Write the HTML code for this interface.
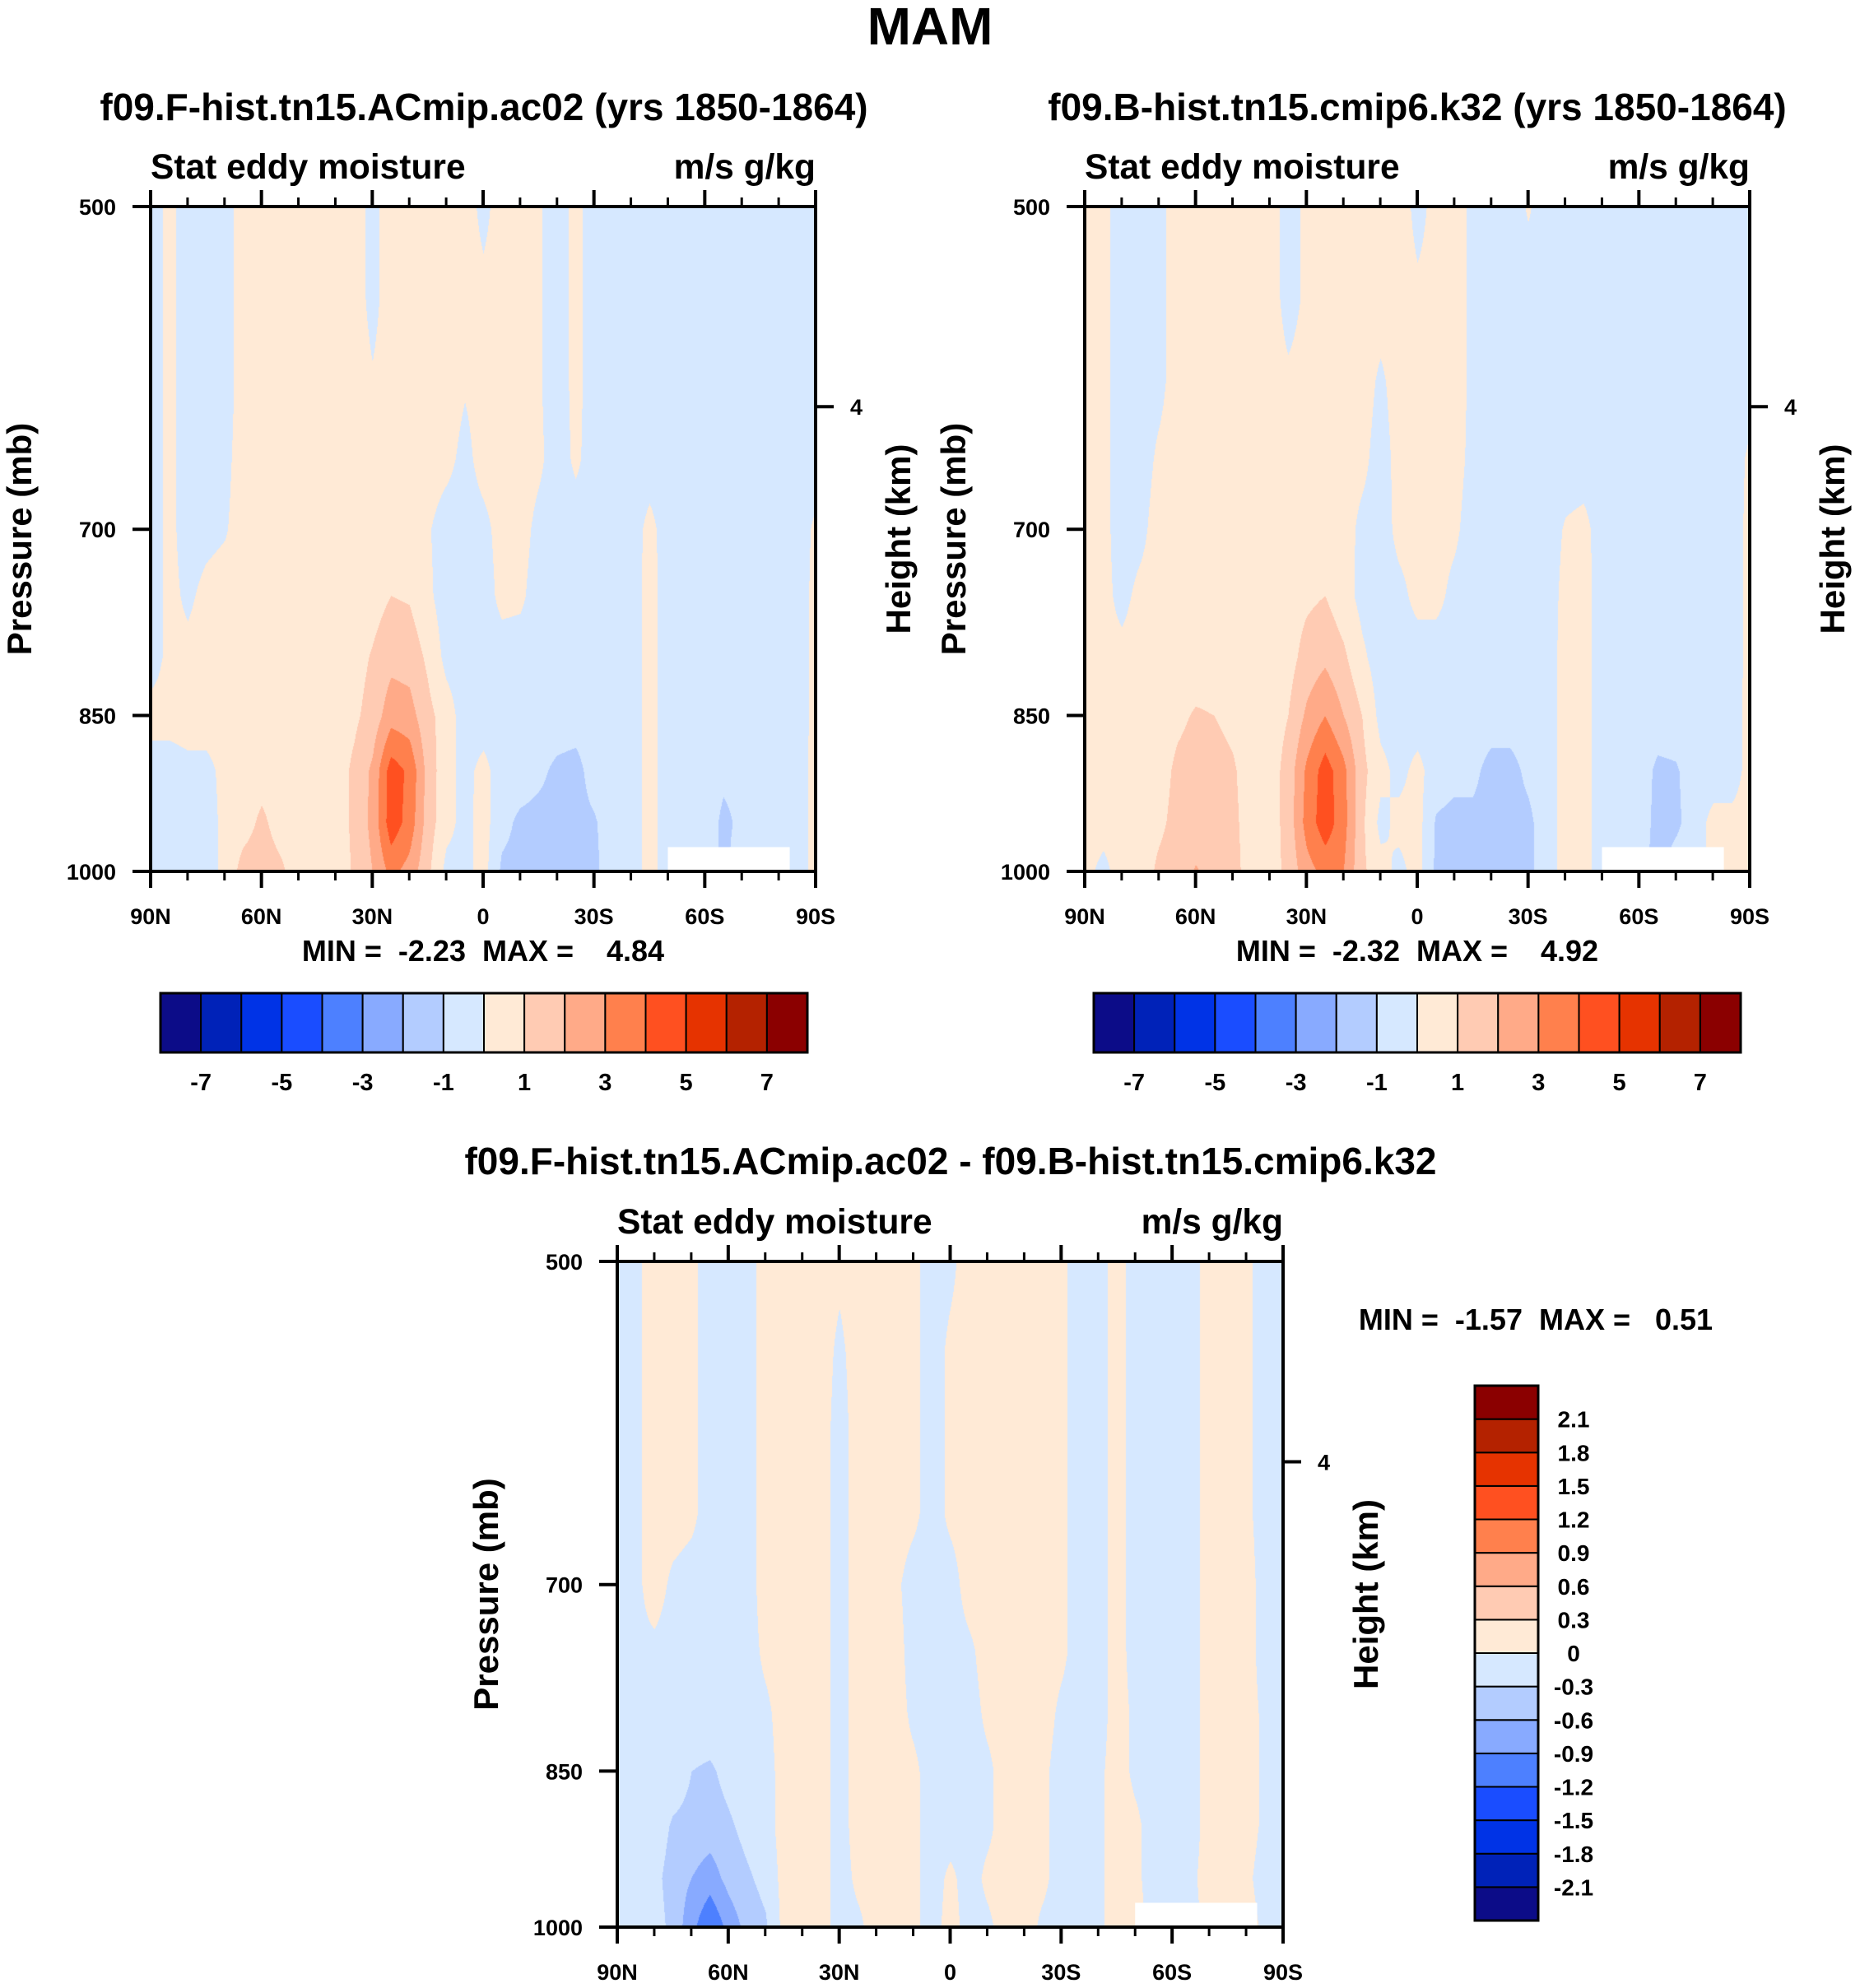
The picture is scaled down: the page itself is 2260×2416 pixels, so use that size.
<!DOCTYPE html>
<html><head><meta charset="utf-8">
<style>
html,body{margin:0;padding:0;background:#fff;}
#wrap{position:relative;width:2260px;height:2416px;overflow:hidden;background:#fff;}
canvas{position:absolute;}
svg{position:absolute;left:0;top:0;}
text{font-family:"Liberation Sans",Arial,sans-serif;font-weight:bold;fill:#000;}
</style></head>
<body>
<div id="wrap">
<canvas id="c1"></canvas>
<canvas id="c2"></canvas>
<canvas id="c3"></canvas>
<svg id="s" width="2260" height="2416"></svg>
</div>
<script>
const lats=[90,85,80,75,70,65,60,55,50,45,40,35,30,25,20,15,10,5,0,-5,-10,-15,-20,-25,-30,-35,-40,-45,-50,-55,-60,-65,-70,-75,-80,-85,-90];
const pLevels=[500,550,600,650,700,750,800,850,900,950,1000];
const latTicks=[90,60,30,0,-30,-60,-90];
const latTickLabels=["90N","60N","30N","0","30S","60S","90S"];
const latMinor=[80,70,50,40,20,10,-10,-20,-40,-50,-70,-80];
const pTicks=[500,700,850,1000];
const heightTickP=[616];
const heightTickLabels=["4"];
const levels12=[-7,-6,-5,-4,-3,-2,-1,0,1,2,3,4,5,6,7];
const levels12Labels=["-7","-5","-3","-1","1","3","5","7"];
const levels3=[-2.1,-1.8,-1.5,-1.2,-0.9,-0.6,-0.3,0,0.3,0.6,0.9,1.2,1.5,1.8,2.1];
const levels3Labels=["-2.1","-1.8","-1.5","-1.2","-0.9","-0.6","-0.3","0","0.3","0.6","0.9","1.2","1.5","1.8","2.1"];
const colors=["#0c0c88","#0022b8","#0033e6","#1a4dff","#4d80ff","#88aaff","#b3ccff","#d6e8ff","#ffead6","#ffcbb3","#ffaa88","#ff804d","#ff5020","#e63300","#b42200","#8b0000"];
const missingBox=[-50,-83,975];

const panel1Values=[
[-.5,.3,-.5,-.5,-.5,.5,.5,.5,.5,.5,.5,.5,-.3,.5,.5,.5,.5,.5,-.3,.5,.5,.1,-.5,.3,-.5,-.5,-.5,-.5,-.5,-.5,-.5,-.5,-.5,-.5,-.5,-.5,-.5],
[-.5,.3,-.5,-.5,-.5,.5,.5,.5,.5,.5,.5,.5,-.3,.5,.5,.5,.5,.5,.3,.5,.5,.1,-.5,.3,-.5,-.5,-.5,-.5,-.5,-.5,-.5,-.5,-.5,-.5,-.5,-.5,-.5],
[-.5,.3,-.5,-.5,-.5,.5,.5,.5,.5,.5,.5,.5,.1,.5,.5,.5,.5,.1,.4,.5,.5,.1,-.5,.3,-.5,-.5,-.5,-.5,-.5,-.5,-.5,-.5,-.5,-.5,-.5,-.5,-.5],
[-.5,.3,-.5,-.5,-.3,.5,.5,.5,.5,.5,.5,.5,.5,.5,.5,.5,.3,-.3,.4,.5,.5,.2,-.5,.2,-.5,-.5,-.5,-.5,-.5,-.5,-.5,-.5,-.5,-.5,-.5,-.5,-.5],
[-.5,.3,-.5,-.3,-.1,.5,.5,.5,.5,.5,.5,.5,.5,.5,.5,.1,-.5,-.5,-.3,.4,.4,-.3,-.5,-.5,-.5,-.5,-.5,.3,-.5,-.5,-.5,-.5,-.5,-.5,-.5,-.5,.2],
[-.5,.3,-.2,.3,.5,.5,.5,.5,.5,.5,.5,.5,.6,1.0,.9,.2,-.5,-.5,-.5,.3,.2,-.5,-.5,-.5,-.5,-.5,-.5,.4,-.5,-.5,-.5,-.5,-.5,-.5,-.5,-.5,.3],
[-.5,.3,.3,.5,.5,.5,.5,.5,.5,.5,.5,.6,1.1,1.7,1.6,.8,-.3,-.5,-.5,-.5,-.5,-.5,-.5,-.5,-.5,-.5,-.5,.4,-.5,-.5,-.5,-.5,-.5,-.5,-.5,-.5,.3],
[.4,.4,.5,.5,.5,.5,.5,.5,.5,.5,.5,.8,1.4,2.6,2.4,1.3,.5,-.5,-.5,-.5,-.5,-.5,-.5,-.6,-.5,-.5,-.5,.4,-.5,-.5,-.5,-.5,-.5,-.5,-.5,-.5,.3],
[-.5,-.5,-.3,-.3,.3,.5,.6,.5,.5,.5,.5,1.2,2.2,4.5,3.8,1.6,.3,-.3,.3,-.5,-.5,-.8,-1.2,-1.3,-.6,-.5,-.5,.4,-.5,-.5,-.5,-.8,-.7,-.5,-.5,-.5,.4],
[-.5,-.5,-.5,-.5,.3,.6,1.2,.6,.5,.5,.5,1.2,2.3,4.6,3.6,1.5,.3,-.3,.4,-.7,-1.2,-1.3,-1.3,-1.3,-1.1,-.5,-.5,.4,-.5,-.5,-.5,-1.2,-.8,-.5,-.5,-.5,.4],
[-.5,-.5,-.5,-.5,.3,1.4,1.5,1.2,.5,.5,.5,1.1,2.0,3.3,2.6,1.2,-.3,-.3,.4,-1.2,-1.3,-1.3,-1.3,-1.3,-1.2,-.5,-.5,.4,-.5,-.5,-.5,-1.2,-.5,-.5,-.5,-.5,.4]
];
const panel2Values=[
[.5,.3,-.5,-.5,-.3,.5,.5,.5,.5,.5,.5,-.4,.2,.5,.5,.5,.5,.5,-.3,.3,.4,-.2,-.5,-.5,.1,-.5,-.5,-.5,-.5,-.5,-.5,-.5,-.5,-.5,-.5,-.5,-.5],
[.5,.3,-.5,-.5,-.3,.5,.5,.5,.5,.5,.5,-.4,.2,.5,.5,.5,.5,.5,.2,.3,.4,-.2,-.5,-.5,-.5,-.5,-.5,-.5,-.5,-.5,-.5,-.5,-.5,-.5,-.5,-.5,-.5],
[.5,.3,-.5,-.5,-.3,.5,.5,.5,.5,.5,.5,.2,.4,.5,.5,.5,-.2,.5,.4,.3,.4,-.2,-.5,-.5,-.5,-.5,-.5,-.5,-.5,-.5,-.5,-.5,-.5,-.5,-.5,-.5,-.5],
[.5,.3,-.5,-.5,.2,.5,.5,.5,.5,.5,.5,.5,.5,.5,.5,.3,-.5,.4,.4,.4,.4,-.3,-.5,-.5,-.5,-.5,-.5,-.5,-.5,-.5,-.5,-.5,-.5,-.5,-.5,-.5,.2],
[.5,.3,-.5,-.3,.5,.5,.5,.5,.5,.5,.5,.5,.5,.5,.5,-.3,-.5,.3,.4,.4,.2,-.5,-.5,-.5,-.5,-.5,.1,.3,-.5,-.5,-.5,-.5,-.5,-.5,-.5,-.5,.3],
[.5,.3,-.3,.3,.5,.5,.5,.5,.5,.5,.5,.5,.8,1.0,.4,-.3,-.5,-.3,.3,.3,-.3,-.5,-.5,-.5,-.5,-.5,.3,.4,-.5,-.5,-.5,-.5,-.5,-.5,-.5,-.5,.3],
[.5,.3,.3,.5,.5,.5,.5,.5,.5,.5,.5,.6,1.4,1.8,1.2,.2,-.5,-.5,-.5,-.5,-.5,-.5,-.5,-.5,-.5,-.5,.4,.4,-.5,-.5,-.5,-.5,-.5,-.5,-.5,-.5,.3],
[.5,.5,.5,.5,.5,.8,1.1,1.0,.8,.5,.5,1.0,2.2,3.0,2.0,1.0,-.3,-.5,-.5,-.5,-.5,-.5,-.6,-.6,-.5,-.5,.4,.4,-.5,-.5,-.5,-.5,-.5,-.5,-.5,-.5,.4],
[.5,.5,.5,.5,.6,1.2,1.4,1.3,1.1,.6,.5,1.4,3.2,4.5,3.3,1.3,.3,-.3,.3,-.5,-.7,-.8,-1.3,-1.3,-.8,-.5,.4,.4,-.5,-.5,-.5,-1.2,-1.1,-.5,-.5,-.5,.4],
[.5,.4,.5,.5,.8,1.3,1.4,1.3,1.2,.6,.5,1.4,3.4,4.6,3.4,1.2,-.3,.3,.4,-1.1,-1.3,-1.2,-1.3,-1.3,-1.2,-.5,.4,.4,-.5,-.5,-.5,-1.3,-1.2,-.5,.3,.3,.4],
[.3,-.3,.5,.5,1.2,1.5,2.1,1.6,1.3,.6,.5,1.3,2.6,3.3,3.0,1.2,.4,-.3,.4,-1.2,-1.3,-1.3,-1.3,-1.3,-1.2,-.5,.4,.4,-.5,-.5,-.5,-1.5,-.5,-.5,.3,.3,.3]
];
const panel3Values=[
[-.1,-.05,.1,.1,.05,-.1,-.1,-.1,.1,.1,.1,.1,.05,.1,.1,.1,.05,-.1,-.05,.1,.1,.1,.1,.1,.05,-.1,-.1,.1,-.1,-.1,-.1,-.1,.1,.1,.05,-.1,-.1],
[-.1,-.05,.1,.1,.05,-.1,-.1,-.1,.1,.1,.1,.1,-.05,.1,.1,.1,.05,-.1,.05,.1,.1,.1,.1,.1,.05,-.1,-.1,.1,-.1,-.1,-.1,-.1,.1,.1,.05,-.1,-.1],
[-.1,-.05,.1,.1,.05,-.1,-.1,-.1,.1,.1,.1,.1,-.1,.1,.1,.1,.05,-.1,.05,.1,.1,.1,.1,.1,.05,-.1,-.1,.1,-.1,-.1,-.1,-.1,.1,.1,.05,-.1,-.1],
[-.1,-.05,.1,.1,.05,-.1,-.1,-.1,.1,.1,.1,.1,-.1,.1,.1,.1,.05,-.1,.05,.1,.1,.1,.1,.1,.05,-.1,-.1,.1,-.1,-.1,-.1,-.1,.1,.1,.05,-.1,-.1],
[-.1,-.05,.1,-.05,-.1,-.1,-.1,-.1,.1,.1,.1,.1,-.1,.1,.1,.05,-.1,-.1,-.1,.1,.1,.1,.1,.1,.05,-.1,-.1,.1,-.1,-.1,-.1,-.1,.1,.1,.1,-.1,-.1],
[-.1,-.05,-.05,-.1,-.1,-.1,-.1,-.1,.05,.1,.1,.1,-.1,.1,.1,.1,-.1,-.1,-.1,-.05,.1,.1,.1,.1,.05,-.1,-.1,.1,-.1,-.1,-.1,-.1,.1,.1,.1,-.1,-.1],
[-.1,-.1,-.1,-.1,-.1,-.1,-.1,-.1,-.05,.1,.1,.1,-.1,.1,.1,.1,-.05,-.1,-.1,-.1,.05,.1,.1,.1,-.05,-.1,-.1,.1,-.05,-.1,-.1,-.1,.1,.1,.1,-.05,-.1],
[-.1,-.1,-.1,-.1,-.3,-.35,-.2,-.1,-.1,.1,.1,.1,-.1,.1,.1,.1,.05,-.1,-.1,-.1,-.05,.1,.1,.05,-.1,-.1,-.05,.1,-.05,-.1,-.1,-.1,.1,.1,.1,-.05,-.1],
[-.1,-.1,-.1,-.35,-.4,-.45,-.35,-.2,-.1,.1,.1,.1,-.1,.1,.1,.1,.05,-.1,-.1,-.1,-.05,.1,.1,.05,-.1,-.1,-.05,.1,.05,-.1,-.1,-.1,.1,.1,.1,-.05,-.1],
[-.1,-.1,-.2,-.45,-.6,-.75,-.5,-.35,-.2,.1,.1,.1,-.1,.05,.1,.1,.05,-.1,.05,-.1,.05,.1,.1,.05,-.1,-.1,-.05,.1,.05,-.1,-.1,-.05,.1,.2,.05,-.1,-.1],
[-.1,-.1,-.15,-.4,-.8,-1.2,-.8,-.5,-.35,.1,.1,.1,-.1,-.05,.1,.1,.05,-.1,.1,-.1,-.05,.1,.1,-.05,-.1,-.1,-.05,.1,.1,-.1,-.1,-.1,.1,.4,.1,-.05,-.1]
];

const NS='http://www.w3.org/2000/svg';
const svg=document.getElementById('s');
function mk(tag,attrs,parent){const e=document.createElementNS(NS,tag);for(const k in attrs)e.setAttribute(k,attrs[k]);(parent||svg).appendChild(e);return e;}
function txt(s,x,y,size,anchor,parent,rot){const t=mk('text',{x:x,y:y,'font-size':size,'text-anchor':anchor||'middle'},parent);if(rot)t.setAttribute('transform','rotate(-90 '+x+' '+y+')');t.textContent=s;return t;}
function hex(c){return [parseInt(c.substr(1,2),16),parseInt(c.substr(3,2),16),parseInt(c.substr(5,2),16)];}

function drawPanel(id,px,py,w,h,vals,lev,name){
  const xS=lat=>px+(90-lat)/180*w;
  const yS=p=>py+Math.log(p/500)/Math.log(2)*h;
  const cv=document.getElementById(id);
  cv.width=w;cv.height=h;cv.style.left=px+'px';cv.style.top=py+'px';
  const ctx=cv.getContext('2d');const img=ctx.createImageData(w,h);
  const nC=lats.length-1,nR=pLevels.length-1;
  const rgb=colors.map(hex);
  for(let y=0;y<h;y++){
    const p=500*Math.pow(2,y/h);
    let r=0;while(r<nR-1&&p>pLevels[r+1])r++;
    const fr=Math.min(1,Math.max(0,(p-pLevels[r])/(pLevels[r+1]-pLevels[r])));
    for(let x=0;x<w;x++){
      const lat=90-x/w*180;
      let c=0;while(c<nC-1&&lat<lats[c+1])c++;
      const fc=Math.min(1,Math.max(0,(lats[c]-lat)/(lats[c]-lats[c+1])));
      const v=(vals[r][c]*(1-fc)+vals[r][c+1]*fc)*(1-fr)+(vals[r+1][c]*(1-fc)+vals[r+1][c+1]*fc)*fr;
      let i=0;while(i<lev.length&&v>=lev[i])i++;
      const k=(y*w+x)*4;img.data[k]=rgb[i][0];img.data[k+1]=rgb[i][1];img.data[k+2]=rgb[i][2];img.data[k+3]=255;
    }
  }
  ctx.putImageData(img,0,0);
  const g=mk('g',{});
  
  
  const mb=mk('rect',{x:xS(missingBox[0]),y:yS(missingBox[2]),width:xS(missingBox[1])-xS(missingBox[0]),height:py+h-yS(missingBox[2]),fill:'#fff'},g);
  
  
  const fr=mk('rect',{x:px,y:py,width:w,height:h,fill:'none',stroke:'#000','stroke-width':4},g);
  
  
  latTicks.forEach((l,i)=>{
    mk('line',{x1:xS(l),x2:xS(l),y1:py+h,y2:py+h+20,stroke:'#000','stroke-width':4},g);
    mk('line',{x1:xS(l),x2:xS(l),y1:py,y2:py-20,stroke:'#000','stroke-width':4},g);
    const t=txt(latTickLabels[i],xS(l),py+h+64,27,'middle',g);
    
    
  });
  latMinor.forEach(l=>{
    mk('line',{x1:xS(l),x2:xS(l),y1:py+h,y2:py+h+11,stroke:'#000','stroke-width':3},g);
    mk('line',{x1:xS(l),x2:xS(l),y1:py,y2:py-11,stroke:'#000','stroke-width':3},g);
  });
  pTicks.forEach(p=>{
    mk('line',{x1:px,x2:px-22,y1:yS(p),y2:yS(p),stroke:'#000','stroke-width':4},g);
    const t=txt(String(p),px-42,yS(p)+10,27,'end',g);
    
    
  });
  heightTickP.forEach((p,i)=>{
    mk('line',{x1:px+w,x2:px+w+22,y1:yS(p),y2:yS(p),stroke:'#000','stroke-width':4},g);
    const t=txt(heightTickLabels[i],px+w+42,yS(p)+10,27,'start',g);
    
    
  });
  const yl=txt('Pressure (mb)',px-145,py+h/2,42,'middle',g,true);
  
  
  const hl=txt('Height (km)',px+w+115,py+h/2,42,'middle',g,true);
  
  
  const st=txt('Stat eddy moisture',px,py-34,42.5,'start',g);
  
  
  const un=txt('m/s g/kg',px+w,py-34,42.5,'end',g);
  
  
}

drawPanel('c1',183,251,808,808,panel1Values,levels12,'panel-f-hist');
drawPanel('c2',1318,251,808,808,panel2Values,levels12,'panel-b-hist');
drawPanel('c3',750,1533,809,809,panel3Values,levels3,'panel-difference');

function hBar(x0,y0,w,h,lev,labs,name){
  const g=mk('g',{});
  
  
  const n=lev.length+1,bw=w/n;
  for(let i=0;i<n;i++){const r=mk('rect',{x:x0+i*bw,y:y0,width:bw,height:h,fill:colors[i],stroke:'#000','stroke-width':2},g);
    
    }
  mk('rect',{x:x0,y:y0,width:w,height:h,fill:'none',stroke:'#000','stroke-width':3},g);
  labs.forEach(s=>{const i=lev.indexOf(parseFloat(s));const t=txt(s,x0+(i+1)*bw,y0+h+46,29,'middle',g);
    
    });
}
hBar(195,1207,786,72,levels12,levels12Labels,'colorbar-panel1');
hBar(1329,1207,786,72,levels12,levels12Labels,'colorbar-panel2');

(function(){
  const x0=1792,y0=1684,w=77,h=650;
  const g=mk('g',{});
  
  
  const n=levels3.length+1,bh=h/n;
  for(let i=0;i<n;i++){const r=mk('rect',{x:x0,y:y0+h-(i+1)*bh,width:w,height:bh,fill:colors[i],stroke:'#000','stroke-width':2},g);
    
    }
  mk('rect',{x:x0,y:y0,width:w,height:h,fill:'none',stroke:'#000','stroke-width':3},g);
  levels3Labels.forEach((s,i)=>{const t=txt(s,1912,y0+h-(i+1)*bh+10,28,'middle',g);
    
    });
})();

const tt=[
 ['MAM',1130,54,64,'main-title'],
 ['f09.F-hist.tn15.ACmip.ac02 (yrs 1850-1864)',588,146,46,'panel1-title'],
 ['f09.B-hist.tn15.cmip6.k32 (yrs 1850-1864)',1722,146,46,'panel2-title'],
 ['f09.F-hist.tn15.ACmip.ac02 - f09.B-hist.tn15.cmip6.k32',1155,1427,46,'panel3-title'],
 ['MIN =  -2.23  MAX =    4.84',587,1168,36,'panel1-minmax'],
 ['MIN =  -2.32  MAX =    4.92',1722,1168,36,'panel2-minmax'],
 ['MIN =  -1.57  MAX =   0.51',1866,1616,36,'panel3-minmax']
];
tt.forEach(a=>{const t=txt(a[0],a[1],a[2],a[3],'middle');t.setAttribute('xml:space','preserve');t.style.whiteSpace='pre';
  
  });
</script>
</body></html>
